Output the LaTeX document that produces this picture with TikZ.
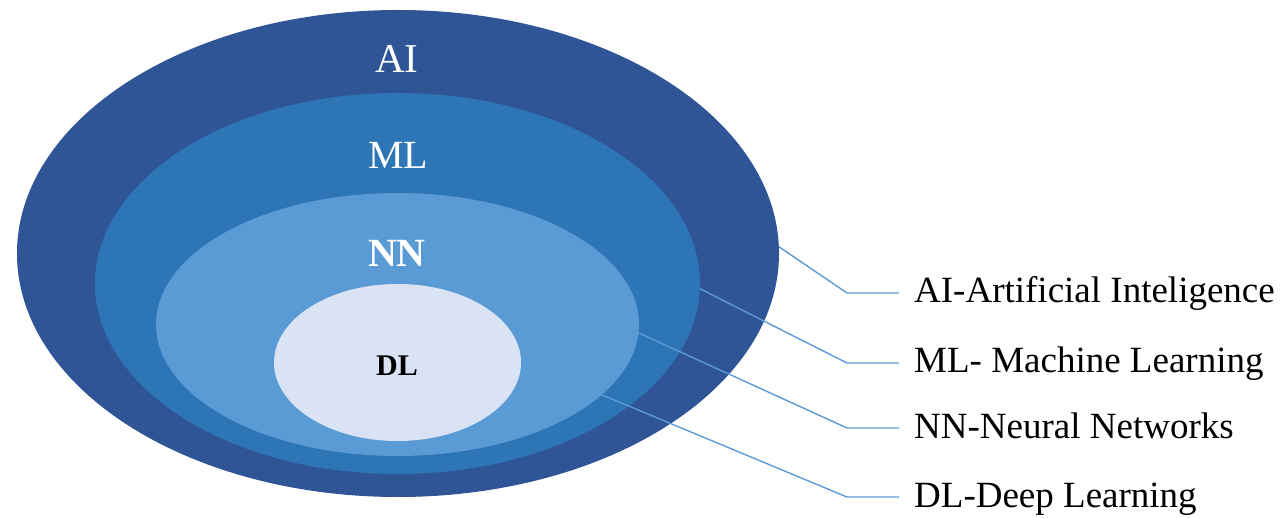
\documentclass[tikz,border=0pt]{standalone}
\usepackage{fontspec}
\setmainfont{Liberation Serif}
\usetikzlibrary{shapes.geometric}
\definecolor{aiblue}{RGB}{47,85,151}
\definecolor{mlblue}{RGB}{46,117,182}
\definecolor{nnblue}{RGB}{91,155,213}
\definecolor{dlblue}{RGB}{218,227,243}
\definecolor{leader}{RGB}{91,155,213}
\begin{document}
\begin{tikzpicture}[x=1pt,y=-1pt,
  layer/.style={ellipse,draw=none,inner sep=0pt},
  inlabel/.style={anchor=base,text=white,inner sep=0pt},
  sidelabel/.style={anchor=base west,inner sep=0pt,text=black,font=\fontsize{37}{40}\selectfont},
  leaderline/.style={draw=leader,line width=1.4pt}]
\useasboundingbox (0,0) rectangle (1281,518);
% nested sets
\node[layer,fill=aiblue,minimum width=762pt,minimum height=487pt] (ai) at (398,253.5) {};
\node[layer,fill=mlblue,minimum width=605pt,minimum height=381pt] (ml) at (397.5,283.5) {};
\node[layer,fill=nnblue,minimum width=483pt,minimum height=263pt] (nn) at (397.5,324.5) {};
\node[layer,fill=dlblue,minimum width=247pt,minimum height=157pt] (dl) at (397.5,362.5) {};
% set names
\node[inlabel,font=\fontsize{41}{44}\selectfont] (tai) at (397,73) {AI};
\node[inlabel,font=\fontsize{40}{44}\selectfont] (tml) at (398,169) {ML};
\node[inlabel,font=\bfseries\fontsize{40}{44}\selectfont] (tnn) at (397,267) {NN};
\node[inlabel,text=black,font=\bfseries\fontsize{30}{34}\selectfont] (tdl) at (397,375) {DL};
% legend
\node[sidelabel] (lai) at (914,302) {AI-Artificial Inteligence};
\node[sidelabel] (lml) at (914,372) {ML- Machine Learning};
\node[sidelabel] (lnn) at (914,438) {NN-Neural Networks};
\node[sidelabel] (ldl) at (914,507) {DL-Deep Learning};
% leader elbows
\coordinate (kai) at (847,293);
\coordinate (kml) at (847,363);
\coordinate (knn) at (847,428);
\coordinate (kdl) at (847,497);
\draw[leaderline] (ai.1) -- (kai) -- ([xshift=-15pt,yshift=9pt]lai.base west);
\draw[leaderline] (ml.-1) -- (kml) -- ([xshift=-15pt,yshift=9pt]lml.base west);
\draw[leaderline] (nn.-2) -- (knn) -- ([xshift=-15pt,yshift=10pt]lnn.base west);
\draw[leaderline] (nn.-19.5) -- (kdl) -- ([xshift=-15pt,yshift=10pt]ldl.base west);
\end{tikzpicture}
\end{document}
